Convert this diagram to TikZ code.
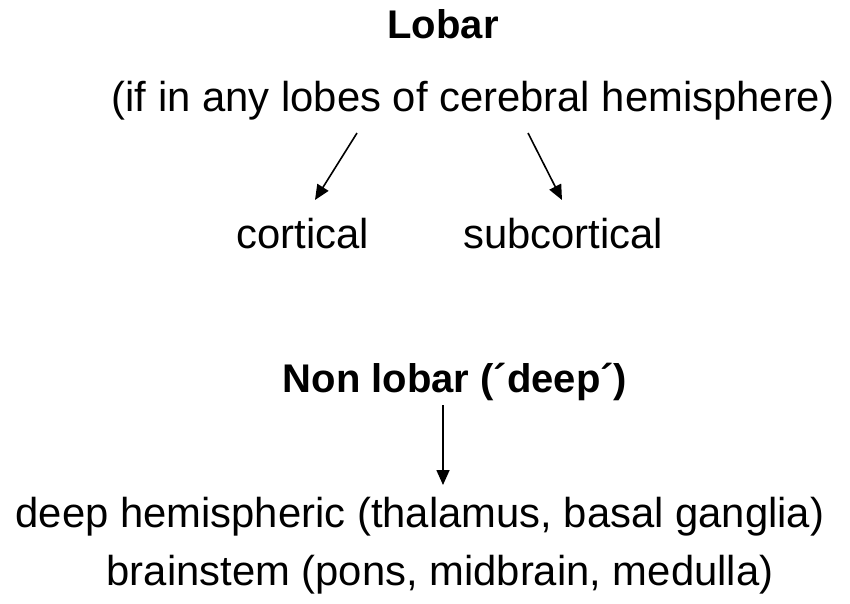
\documentclass[tikz,border=0pt]{standalone}
\usepackage{fontspec}
\setmainfont{Liberation Sans}
\usetikzlibrary{arrows.meta}
\begin{document}
\begin{tikzpicture}[x=1pt,y=-1pt,
  txt/.style={anchor=base,inner sep=0pt,font=\fontsize{41.8}{48}\selectfont},
  btxt/.style={anchor=base,inner sep=0pt,font=\fontsize{40}{48}\selectfont\bfseries},
  arr/.style={line width=1.6pt,-{Triangle[length=15pt,width=13pt]}}]
\useasboundingbox[fill=white] (0,0) rectangle (850,603);
\node[btxt] (lobar) at (443,38) {Lobar};
\node[txt] (if) at (473,111) {(if in any lobes of cerebral hemisphere)};
\node[txt] (cort) at (303,248) {cortical};
\node[txt] (subc) at (563,248) {subcortical};
\node[btxt] (nonl) at (455,392) {Non lobar (´deep´)};
\node[txt] (deeph) at (420,527) {deep hemispheric (thalamus, basal ganglia)};
\node[txt] (brain) at (440,585) {brainstem (pons, midbrain, medulla)};
\coordinate (a1s) at (357,133);
\coordinate (a1e) at (315,200);
\coordinate (a2s) at (528,133);
\coordinate (a2e) at (562,200);
\coordinate (a3s) at (443,405);
\coordinate (a3e) at (443,485);
\draw[arr] (a1s) -- (a1e);
\draw[arr] (a2s) -- (a2e);
\draw[arr] (a3s) -- (a3e);
\end{tikzpicture}
\end{document}
